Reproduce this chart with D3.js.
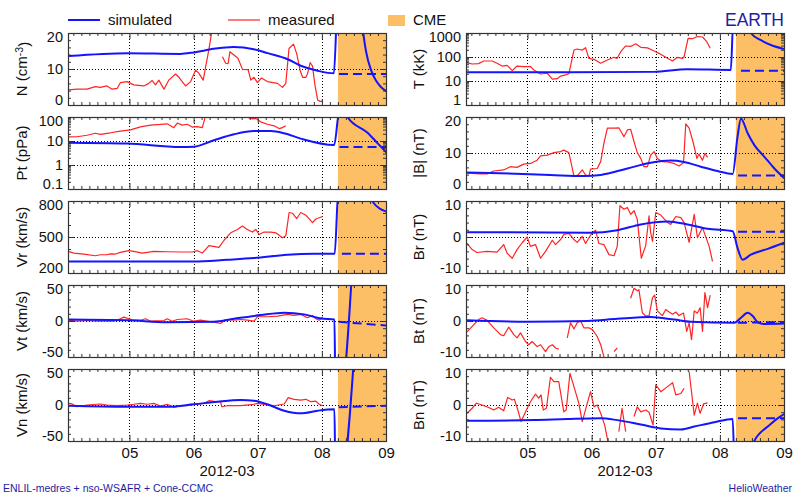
<!DOCTYPE html>
<html><head><meta charset="utf-8">
<script src="https://cdn.jsdelivr.net/npm/d3@7"></script>
<style>body{margin:0;background:#fff}svg{display:block}text{font-family:"Liberation Sans",Arial,Helvetica,sans-serif}</style>
</head><body><svg id="c" width="800" height="499"></svg>
<script>
// ---- data: [hours since 2012-03-04 00:00 UTC, value] ----
const cmeStartHour = 102;
const timeRangeHours = [1, 120];
const dayTickLabels = ["05","06","07","08","09"];

const nSimulated = [[1.2,13.6],[23.3,14.4],[43,14.2],[48,14.6],[55.5,15.6],[63,16.1],[70.5,15.5],[75.75,14.4],[83.25,12.7],[88.1,10.9],[94.5,9.5],[100.5,8.8],[102,30],[110,30],[111.4,20.5],[112.5,15],[114.4,9.7],[116.25,6.8],[118.1,5],[120.4,3.7]];
const nDashed = [[102.4,8.6],[120.4,8.6]];
const nMeasured = [[1.24,4.2],[4.4,4.4],[8.1,4.4],[11.25,5.1],[13.1,4.9],[15.6,5.3],[17.5,4.4],[19.4,4.6],[20.6,6.2],[23.1,6.5],[25.6,5.6],[29.4,5.3],[31.2,6.0],[32.5,6.8],[33.75,5.6],[35,6.9],[36.9,4.4],[38.7,6.9],[41.25,8.6],[42.5,7.7],[45,5.3],[46.9,6.5],[48.75,9.7],[50,8.8],[51.6,6.9],[52.5,10.6],[53.7,15.3],[54.6,19.4],[55.2,24],[55.3,null],[58.8,13.4],[60,11.6],[60.9,11.5],[61.6,14.8],[63.1,13.9],[64.6,13.0],[66.3,9.9],[68.4,9.8],[69.4,6.9],[70.6,7.7],[71.9,6.2],[73.4,7.5],[75.6,6.5],[79.4,6.0],[81.3,4.9],[82.5,6.0],[83.7,15.7],[85.4,16.9],[86.6,14.2],[87.9,9.5],[88.8,7.7],[90,7.7],[90.6,8.6],[91.6,11.8],[92.5,10.8],[93.4,5.6],[94.4,1.4],[95.4,1.0],[96.3,1.0]];

const tSimulated = [[1.4,23],[38.9,23],[71.25,24],[83.9,31],[100.1,29],[101,3000],[106,3000],[107.6,1000],[111.4,500],[115.1,316],[120,215]];
const tDashed = [[103.9,27],[120,27]];
const tMeasured = [[1.4,58],[3.3,51],[5.7,53],[7.6,68],[10.8,68],[12.6,55],[14.5,42],[16.4,45],[18.3,27],[20.1,42],[22.6,40],[25.1,40],[26.4,29],[28.9,19.6],[31.4,21],[33.3,12],[35.1,12.5],[36.4,16],[38.25,18],[39.5,20],[41.4,195],[42.6,215],[44.5,195],[45.75,245],[47,88],[48.9,80],[51.4,55],[53.9,75],[56.4,97],[57.6,88],[58.9,166],[60.75,288],[62.6,275],[64.5,355],[66.4,254],[68.9,240],[71.4,178],[73.2,142],[76.4,88],[78.3,68],[80.1,97],[82,88],[82.6,100],[84.1,600],[85.75,580],[87.6,710],[89.5,680],[91.1,435],[92.4,230]];

const ptSimulated = [[1.2,8.5],[23.1,7.8],[43.1,5.6],[48.1,5.8],[55.6,10.7],[63.1,19],[70.6,26],[76.9,26],[81.9,21],[88.1,12.6],[100.6,6.8],[102.6,200],[104.5,200],[105.6,100],[113.1,22],[116.9,8],[120.3,3.2]];
const ptDashed = [[102.6,5.6],[120.3,5.6]];
const ptMeasured = [[1.2,14.8],[4.4,15],[8.1,17.4],[11.25,21],[13.1,19],[16.9,22],[20.6,26],[24.4,29],[28.1,39],[31.9,46],[35.6,49],[38.1,52],[40.6,36],[41.9,56],[43.75,46],[45.6,50],[47.5,38],[49.4,40],[51.25,36],[52.1,78],[52.6,150],[52.7,null],[66.5,150],[66.9,98],[68.1,98],[70,83],[71.25,88],[73.1,63],[75.6,50],[78.1,43],[80,33],[81.25,36],[82.5,43]];

const bSimulated = [[1.4,4.6],[13.9,4.4],[32.6,3.9],[45.1,3.6],[51.4,3.9],[61.4,5.7],[70.1,7.3],[77.6,7.9],[82.6,7.5],[88.9,6.2],[95.1,5],[100.8,4.2],[102.6,14.5],[103.9,19.5],[106.4,15.5],[108.9,12.2],[112.6,9],[116.4,5.7],[120.1,3]];
const bDashed = [[102.8,3.75],[120.1,3.75]];
const bMeasured = [[1.4,4.4],[6.4,4.2],[8.9,4.2],[11.4,5],[15.1,5.3],[17.6,6.2],[20.1,6],[22.6,6.9],[25.1,7.1],[27.6,8],[28.9,9.2],[31.4,9.4],[33.9,10.1],[36.4,10.4],[37.6,10.8],[39.5,10.1],[41.4,3.6],[42.9,3.9],[44.5,5.3],[45.75,3.9],[47,3.6],[47.6,5.5],[50.1,5.7],[51.4,7.6],[52.6,12.7],[53.9,16.9],[56.4,16.9],[58.2,17],[60.1,14.5],[61.4,16.4],[62.6,16.6],[63.9,13.1],[65.1,10.1],[66.4,8.5],[67.6,6.2],[68.9,6.2],[70.1,9.4],[71.4,10.4],[72.6,8.5],[74.5,7.6],[76.4,7.5],[78.9,7.1],[80.7,6.4],[82.4,7.3],[83.25,18.1],[84.5,16.9],[86.1,12.7],[87.4,8.5],[88.2,9.7],[89.5,8],[90.4,9.9],[91.4,8.8]];

const vrSimulated = [[1.2,295],[48.1,295],[60.6,310],[70.6,324],[83.1,352],[93.1,360],[100.8,360],[102.2,900],[113.5,860],[115,794],[120.3,710]];
const vrDashed = [[103.5,360],[120.3,360]];
const vrMeasured = [[1.2,380],[3.1,366],[6.9,358],[11.25,344],[13.1,352],[15.6,352],[16.9,360],[18.75,358],[20.6,372],[23.75,386],[25.6,380],[28.75,366],[33.1,380],[38.1,377],[43.1,375],[47.5,375],[49.4,386],[51.25,366],[53.75,428],[57.5,414],[59.4,473],[61.9,535],[64.4,563],[66.25,591],[68.1,563],[70,541],[71.25,563],[72.5,521],[74.4,541],[76.9,541],[78.75,535],[81.25,493],[82.5,510],[83.75,704],[85,698],[86.6,654],[88.1,704],[90,682],[92.5,620],[93.75,650],[96.3,671]];

const brSimulated = [[1.4,1.35],[47.6,1.2],[57.6,1.9],[66.4,3.5],[76.4,4.3],[83.9,3.5],[91.4,2.3],[100.8,1.6],[102.6,-3],[104.5,-6.3],[107.6,-4.9],[113.9,-3.3],[120.1,-1.6]];
const brDashed = [[102.8,1.45],[120.1,1.45]];
const brMeasured = [[1.4,-1.8],[3.3,-3.5],[5.1,-4.3],[8.9,-4],[12.6,-4.2],[15.1,-2.1],[16.4,-4.5],[18.3,-5.9],[20.1,-3.5],[22,-1.6],[23.9,0],[25.1,-2.6],[27,-2.1],[28.9,-5.9],[30.75,-4],[33.3,-0.9],[34.5,-2.1],[36.4,-0.7],[37.6,0.7],[39.5,1],[41.4,-0.7],[42.6,-1.5],[44.5,0.2],[45.75,-1.8],[47,-0.2],[48.3,1.2],[49.5,1.9],[50.7,-1.8],[52.6,-2.1],[54.5,-4.9],[56.4,-5.2],[57.6,-2.6],[58.6,8.7],[60.1,7.7],[61.4,8.2],[62.6,6.3],[63.9,7.3],[65.1,4.9],[66.6,-5.9],[68.25,-2.4],[69.5,5.9],[70.1,1.2],[70.8,-1.2],[72,6.8],[73.9,6.1],[76.4,4],[77.6,3.5],[79.5,5.7],[81.4,5.4],[82.6,4],[84.5,-1.5],[86.4,6.3],[87.6,-0.2],[89.5,2.6],[92,-2.6],[93.25,-6.8]];

const vtSimulated = [[1.2,2.1],[23.1,1.1],[38.1,-1.7],[55.6,-1.1],[63.1,3.1],[73.1,8.2],[81.9,11.5],[89.4,9.2],[95.6,3.5],[100.7,2.1],[101.1,-100],[103.15,-100],[107.15,60]];
const vtDashed = [[102.3,-1.2],[120.3,-6.3]];
const vtMeasured = [[1.2,1.1],[4.4,-0.3],[8.1,0.7],[11.9,-0.3],[18.1,-0.3],[20,2.1],[21.9,5.4],[23.75,3.1],[25.6,1.1],[28.1,1.1],[30,3.1],[31.9,-0.3],[36.9,0.7],[38.1,3.1],[40,-0.3],[41.9,2.1],[45.6,3.1],[48.1,-0.3],[50.6,1.1],[55.6,-1.7],[58.1,-3.5],[60,2.1],[63.1,1.1],[65.6,2.1],[68.1,1.1],[70.6,-0.3],[71.9,5.9],[75.6,5.9],[79.4,6.8],[83.1,9.2],[85.6,7.7],[88.1,9.2],[90.6,4.5],[92.5,7.7],[93.75,3.1],[95,1.1],[96.3,5.9]];

const btSimulated = [[1.4,0.2],[23.9,-0.2],[46.4,0],[57.6,0.6],[70.1,1.1],[78.9,0.4],[85.1,-0.2],[101.4,-0.5],[103.9,0.9],[106.4,2.3],[108.3,1.4],[110.1,-0.3],[112.6,-0.8],[120.1,-0.7]];
const btDashed = [[102.8,-0.5],[120.1,-0.3]];
const btMeasured = [[1.4,-3],[3.3,-1.5],[5.7,0.4],[7,0.9],[8.9,0.2],[11.4,-1.9],[13.9,-3.8],[15.1,-4.1],[17,-1.7],[18.9,-3.8],[20.1,-4.7],[21.4,-3.3],[23.25,-5.7],[24.5,-6.6],[25.75,-5.7],[27.6,-7.1],[28.9,-6.6],[30.75,-8.5],[32,-7.1],[33.3,-6.6],[34.5,-7.5],[35.7,-7.8],[37,null],[38.9,-4.7],[40.1,-0.5],[41.4,-2.2],[42.6,-0.5],[43.9,0],[45.1,-1.9],[47,-1.9],[48.3,-2.4],[50.1,-4.3],[51.4,-6.6],[52.6,-9.9],[53.2,-12],[54,null],[56.4,-8.5],[57.6,-7.5],[59,null],[62.6,6.3],[63.9,9.1],[65.1,8.4],[65.7,8.7],[67,2.3],[68.25,1.4],[69.5,1.4],[70.8,6.5],[71.6,7.2],[72.6,2.8],[74.5,1.5],[75.75,3.2],[77,2.5],[78.3,1.9],[79.5,2.5],[80.7,1.5],[82.4,2.2],[83.6,-2.9],[84.5,-0.5],[85.4,-5.2],[86.4,2.8],[87.6,2.2],[88.6,3.7],[89.5,-2.9],[90.4,7.9],[91.4,3.7],[92.4,7.2]];

const vnSimulated = [[1.2,-1],[23.1,-2.4],[38.1,-2.4],[48.1,1],[56.9,4.6],[65.6,6.9],[70.6,6],[75.6,1],[81.9,-7.9],[88.1,-11.6],[94.4,-7.9],[100.7,-6],[101.1,-100],[103.3,-100],[108.2,75]];
const vnDashed = [[102.3,-3],[120.3,-1]];
const vnMeasured = [[1.2,2.3],[2.5,1.5],[4.4,-2.4],[8.1,0],[13.1,1.4],[15.6,0],[19.4,-1],[23.1,0],[25.6,1],[28.1,2.3],[30.6,1],[33.1,2.3],[35.6,-1.4],[38.1,1],[40.6,-3.2],[43.1,-1],[45.6,-1],[48.75,1],[51.9,2.3],[53.75,6],[56.25,4.6],[58.1,4.6],[58.5,-2.4],[60.6,-1],[65.6,-1],[70.6,1],[71.9,2.3],[75.6,0],[78.1,-1],[81.9,1.4],[83.4,10.2],[85.6,7.9],[88.1,6.9],[90,7.9],[91.9,4.6],[93.75,5.3],[95,1],[96.3,-1]];

const bnSimulated = [[1.4,-4.4],[26.4,-4.2],[38.9,-3.9],[51.4,-3.7],[57.6,-4.2],[66.4,-5.4],[73.9,-6.5],[81.4,-6.8],[86.4,-6],[93.9,-4.8],[100.8,-3.9],[101.6,-20],[106.5,-16],[108.9,-10],[111,-7.8],[113.9,-6],[117.6,-3.7],[120.1,-2.5]];
const bnDashed = [[102.8,-3.7],[120.1,-3.7]];
const bnMeasured = [[1.4,-2.3],[3.3,-0.9],[4.9,0.5],[7,0],[9.5,-0.7],[11.4,-1.4],[13.2,-0.6],[15.1,-1.6],[16.6,2.1],[18.3,1.4],[19.1,1.6],[20.4,-1.4],[21.6,-4.6],[23.6,-1.4],[25.1,0.9],[27,3],[28.2,1.9],[29.1,2.8],[29.9,-1.4],[31.1,-0.9],[32.6,7.7],[33.9,6.5],[35.7,6.5],[37.6,-1.9],[38.5,-1.4],[39.9,8.8],[41.4,5.1],[43.2,0.5],[44.5,-4.6],[46.4,0.5],[47.6,3.7],[48.9,-0.5],[50.1,0],[51.4,-2.3],[52.9,-5.6],[54.6,-12],[55,null],[58.2,-7.4],[59.4,-0.9],[60.75,-7.4],[61.5,null],[63.9,-3.2],[65.1,-0.5],[66.4,-1.9],[68.25,-1.4],[69.5,-2],[71,-5.6],[72,5.6],[73.9,3.7],[76.4,5.1],[78.3,6.2],[79.5,2.8],[81.4,3.2],[82.6,4.6],[83.5,null],[84.5,9.3],[86.4,-2.8],[87.6,0.5],[88.6,-2.3],[89.9,0.3],[91.4,0.6]];

// ---- layout ----
const svg = d3.select("#c");
const T0 = Date.UTC(2012, 2, 4);
const toDate = h => new Date(T0 + h * 3600e3);
const colX = [68, 466], PW = 318, PH = 72;
const rowY = [33, 117, 201, 285, 369];
const BLUE = "#1414ff", RED = "#ff2424", CMEFILL = "#fdbf66", NAVY = "#1e1ea0", AX = "#333";

const panels = [
  {c:0,r:0,label:["N (cm","-3",")"],type:"lin",dom:[0,20],major:[0,10,20],minor:2,grid:[10],sim:nSimulated,dash:nDashed,meas:nMeasured},
  {c:1,r:0,label:["T (kK)"],type:"log",dom:[1,1000],major:[1,10,100,1000],grid:[10,100],sim:tSimulated,dash:tDashed,meas:tMeasured},
  {c:0,r:1,label:["Pt (pPa)"],type:"log",dom:[0.1,100],major:[0.1,1,10,100],grid:[1,10],sim:ptSimulated,dash:ptDashed,meas:ptMeasured},
  {c:1,r:1,label:["|B| (nT)"],type:"lin",dom:[0,20],major:[0,10,20],minor:2,grid:[10],sim:bSimulated,dash:bDashed,meas:bMeasured},
  {c:0,r:2,label:["Vr (km/s)"],type:"lin",dom:[200,800],major:[200,500,800],minor:100,grid:[500],sim:vrSimulated,dash:vrDashed,meas:vrMeasured},
  {c:1,r:2,label:["Br (nT)"],type:"lin",dom:[-10,10],major:[-10,0,10],minor:2,grid:[0],sim:brSimulated,dash:brDashed,meas:brMeasured},
  {c:0,r:3,label:["Vt (km/s)"],type:"lin",dom:[-50,50],major:[-50,0,50],minor:10,grid:[0],sim:vtSimulated,dash:vtDashed,meas:vtMeasured},
  {c:1,r:3,label:["Bt (nT)"],type:"lin",dom:[-10,10],major:[-10,0,10],minor:2,grid:[0],sim:btSimulated,dash:btDashed,meas:btMeasured},
  {c:0,r:4,label:["Vn (km/s)"],type:"lin",dom:[-50,50],major:[-50,0,50],minor:10,grid:[0],sim:vnSimulated,dash:vnDashed,meas:vnMeasured},
  {c:1,r:4,label:["Bn (nT)"],type:"lin",dom:[-10,10],major:[-10,0,10],minor:2,grid:[0],sim:bnSimulated,dash:bnDashed,meas:bnMeasured}
];

const defs = svg.append("defs");

panels.forEach((p, i) => {
  const x0 = colX[p.c], y0 = rowY[p.r];
  const x = d3.scaleUtc().domain(timeRangeHours.map(toDate)).range([0, PW]);
  const y = (p.type === "log" ? d3.scaleLog() : d3.scaleLinear()).domain(p.dom).range([PH, 0]);
  const g = svg.append("g").attr("transform", `translate(${x0},${y0})`);
  defs.append("clipPath").attr("id", "clip" + i).append("rect").attr("width", PW).attr("height", PH);
  const body = g.append("g").attr("clip-path", `url(#clip${i})`);

  // CME shading
  body.append("rect").attr("x", x(toDate(cmeStartHour))).attr("y", 0)
    .attr("width", PW - x(toDate(cmeStartHour)) + 1).attr("height", PH).attr("fill", CMEFILL);

  // grid
  const days = d3.utcDay.range(toDate(timeRangeHours[0]), toDate(timeRangeHours[1]));
  body.selectAll(".vg").data(days).join("line")
    .attr("x1", d => Math.round(x(d)) + 0.5).attr("x2", d => Math.round(x(d)) + 0.5)
    .attr("y1", 0).attr("y2", PH).attr("stroke", "#000").attr("stroke-width", 1).attr("stroke-dasharray", "1,2");
  body.selectAll(".hg").data(p.grid).join("line")
    .attr("x1", 0).attr("x2", PW).attr("y1", d => Math.round(y(d)) + 0.5).attr("y2", d => Math.round(y(d)) + 0.5)
    .attr("stroke", "#000").attr("stroke-width", 1).attr("stroke-dasharray", "1,2");

  const line = d3.line().defined(d => d[1] !== null).x(d => x(toDate(d[0]))).y(d => y(d[1]));
  const smooth = d3.line().curve(d3.curveMonotoneX).x(d => x(toDate(d[0]))).y(d => y(d[1]));
  body.append("path").attr("d", line(p.meas)).attr("fill", "none").attr("stroke", RED).attr("stroke-width", 1.2).attr("stroke-linejoin", "round");
  body.append("path").attr("d", line(p.dash)).attr("fill", "none").attr("stroke", BLUE).attr("stroke-width", 2).attr("stroke-dasharray", "9,5");
  body.append("path").attr("d", smooth(p.sim)).attr("fill", "none").attr("stroke", BLUE).attr("stroke-width", 2).attr("stroke-linejoin", "round");

  // minor y ticks
  let minors;
  if (p.type === "log") {
    minors = [];
    for (let e = Math.round(Math.log10(p.dom[0])); e < Math.round(Math.log10(p.dom[1])); e++)
      for (let m = 2; m <= 9; m++) minors.push(m * Math.pow(10, e));
  } else {
    minors = d3.range(p.dom[0], p.dom[1] + 1e-9, p.minor).filter(v => !p.major.some(M => Math.abs(M - v) < 1e-9));
  }
  const yAxisStyle = sel => { sel.select(".domain").remove(); sel.selectAll("line").attr("stroke", AX); };
  g.append("g").call(d3.axisLeft(y).tickValues(minors).tickSize(-3).tickFormat("")).call(yAxisStyle);
  g.append("g").attr("transform", `translate(${PW},0)`).call(d3.axisRight(y).tickValues(minors).tickSize(-3).tickFormat("")).call(yAxisStyle);
  g.append("g").attr("transform", `translate(${PW},0)`).call(d3.axisRight(y).tickValues(p.major).tickSize(-6).tickFormat("")).call(yAxisStyle);
  const ya = g.append("g").call(d3.axisLeft(y).tickValues(p.major).tickSize(-6).tickPadding(5).tickFormat(d => String(d))).call(yAxisStyle);
  ya.selectAll("text").attr("font-size", 14.5).attr("fill", "#111")
    .attr("font-family", '"Liberation Sans",Arial,sans-serif')
    .attr("y", d => { const yy = y(d); return yy < 5 ? 4 - yy : (yy > PH - 6 ? PH - 5 - yy : 0); });

  // x ticks (top & bottom)
  const xAxisStyle = sel => { sel.select(".domain").remove(); sel.selectAll("line").attr("stroke", AX); };
  const hours3 = d3.utcHour.every(3).range(toDate(timeRangeHours[0]), toDate(timeRangeHours[1] + 0.01)).filter(d => d.getUTCHours() !== 0);
  const dayTicks = d3.utcDay.range(toDate(timeRangeHours[0]), toDate(timeRangeHours[1] + 0.01));
  g.append("g").attr("transform", `translate(0,${PH})`).call(d3.axisBottom(x).tickValues(hours3).tickSize(-3).tickFormat("")).call(xAxisStyle);
  g.append("g").call(d3.axisTop(x).tickValues(hours3).tickSize(-3).tickFormat("")).call(xAxisStyle);
  g.append("g").call(d3.axisTop(x).tickValues(dayTicks).tickSize(-6).tickFormat("")).call(xAxisStyle);
  const xb = g.append("g").attr("transform", `translate(0,${PH})`)
    .call(d3.axisBottom(x).tickValues(dayTicks).tickSize(-6).tickPadding(6)
      .tickFormat((d, k) => p.r === 4 ? dayTickLabels[k] : ""))
    .call(xAxisStyle);
  xb.selectAll("text").attr("font-size", 15).attr("fill", "#111").attr("font-family", '"Liberation Sans",Arial,sans-serif');

  // frame
  g.append("rect").attr("x", 0.5).attr("y", 0.5).attr("width", PW).attr("height", PH)
    .attr("fill", "none").attr("stroke", AX).attr("stroke-width", 1.2);

  // y label
  const lx = p.c === 0 ? 22 : 419;
  const t = svg.append("text").attr("transform", `translate(${lx},${y0 + PH / 2}) rotate(-90)`)
    .attr("text-anchor", "middle").attr("dy", "0.35em").attr("font-size", 15).attr("fill", "#111");
  t.append("tspan").text(p.label[0]);
  if (p.label.length > 1) {
    t.append("tspan").attr("dy", "-0.45em").attr("font-size", 10.5).text(p.label[1]);
    t.append("tspan").attr("dy", "0.45em").text(p.label[2]);
  }

  if (p.r === 4) {
    svg.append("text").attr("x", x0 + PW / 2).attr("y", 476).attr("text-anchor", "middle")
      .attr("font-size", 15).attr("fill", "#111").text("2012-03");
  }
});

// legend
const lg = svg.append("g");
lg.append("line").attr("x1", 68).attr("x2", 100).attr("y1", 20).attr("y2", 20).attr("stroke", BLUE).attr("stroke-width", 2);
lg.append("text").attr("x", 108).attr("y", 25).attr("font-size", 15).attr("fill", "#111").text("simulated");
lg.append("line").attr("x1", 228).attr("x2", 260).attr("y1", 20).attr("y2", 20).attr("stroke", RED).attr("stroke-width", 1.2);
lg.append("text").attr("x", 268).attr("y", 25).attr("font-size", 15).attr("fill", "#111").text("measured");
lg.append("rect").attr("x", 388).attr("y", 15).attr("width", 17).attr("height", 11).attr("fill", CMEFILL);
lg.append("text").attr("x", 413).attr("y", 25).attr("font-size", 15).attr("fill", "#111").text("CME");
svg.append("text").attr("x", 784).attr("y", 26).attr("text-anchor", "end").attr("font-size", 17.5).attr("fill", NAVY).text("EARTH");

// footer
svg.append("text").attr("x", 3).attr("y", 492).attr("font-size", 10.5).attr("fill", NAVY).text("ENLIL-medres + nso-WSAFR + Cone-CCMC");
svg.append("text").attr("x", 792).attr("y", 492).attr("text-anchor", "end").attr("font-size", 10.5).attr("fill", NAVY).text("HelioWeather");
</script></body></html>
